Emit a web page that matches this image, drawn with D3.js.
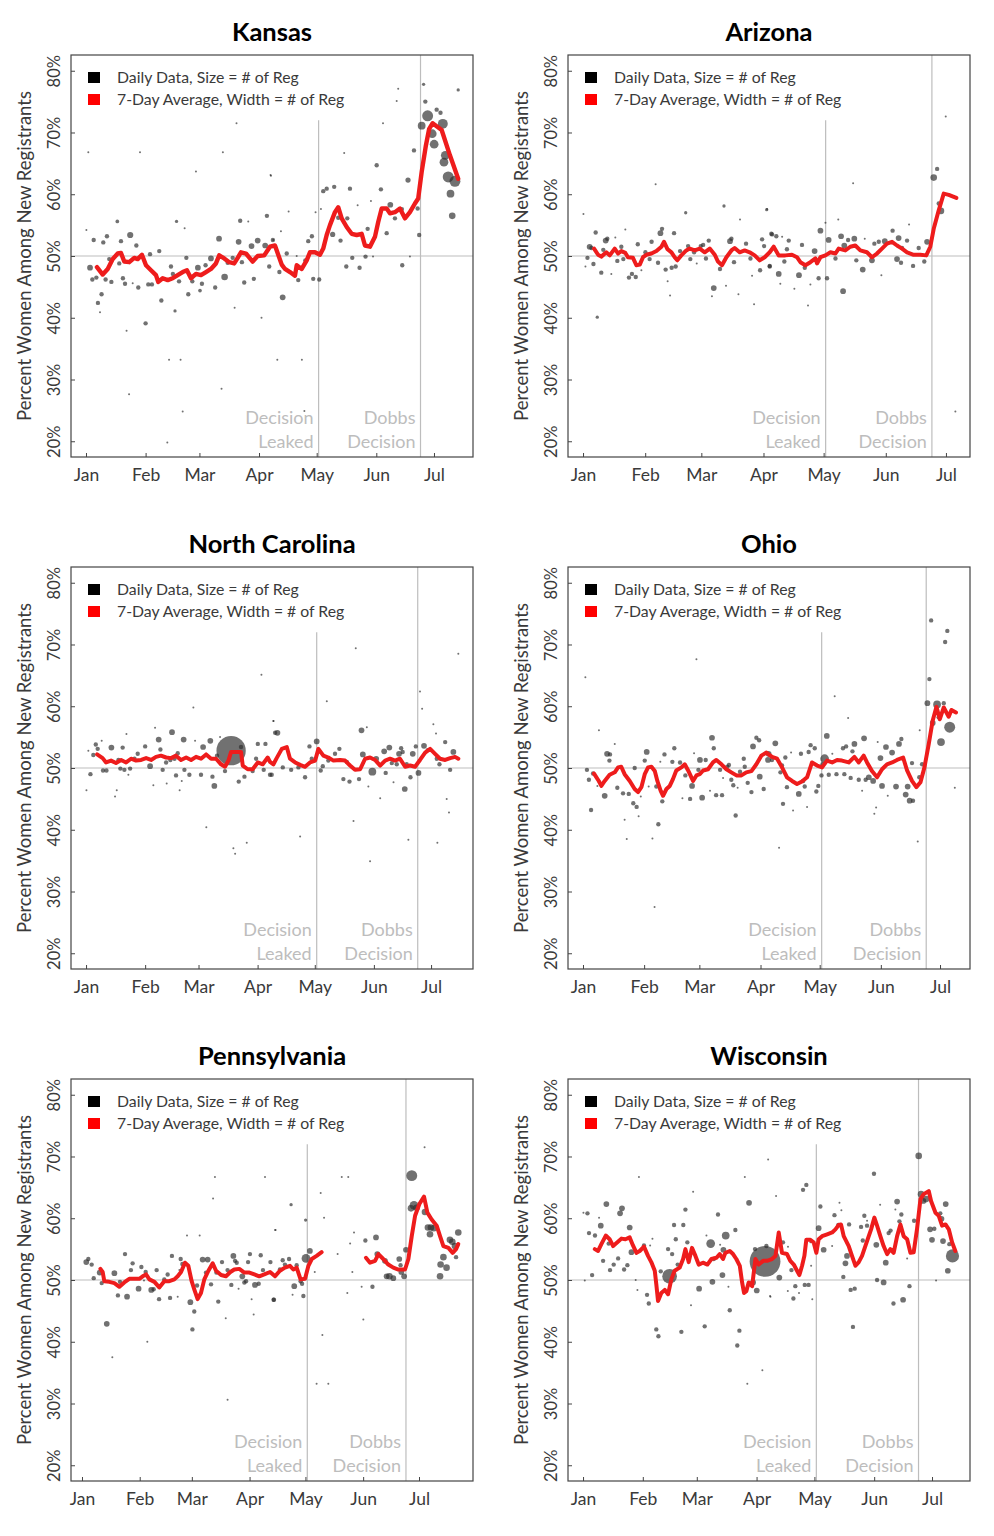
<!DOCTYPE html>
<html><head><meta charset="utf-8">
<script src="https://cdn.jsdelivr.net/npm/d3@7"></script>
<style>body{margin:0;background:#fff} text{font-family:Lato,'Open Sans',sans-serif}</style>
</head><body><svg id="c" width="994" height="1536"></svg>
<script>
// ---------------- data ----------------
const states = ["Kansas","Arizona","North Carolina","Ohio","Pennsylvania","Wisconsin"];
const monthTicks = [0,31,59,90,120,151,181];          // day of year 2022 (0 = Jan 1)
const monthLabels = ["Jan","Feb","Mar","Apr","May","Jun","Jul"];
const yTicks = [20,30,40,50,60,70,80];
const leakDay = 121, dobbsDay = 174;
const xDomains = [[-7.8,201.3],[-7.5,193],[-7.9,203],[-7.6,196.2],[-5.9,210],[-7.8,200.7]];
const legendLabels = ["Daily Data, Size = # of Reg","7-Day Average, Width = # of Reg"];

// daily points: [day, % women, # registrants]
const ksDots = [[1.2,66.8,1],[28.1,66.8,1],[71.2,66.8,1],[78.3,71.5,1],[57.2,63.7,1],[96.2,63.0,1],[0.2,54.2,1],[16.3,55.6,5],[4.0,52.6,7],[9.0,52.2,7],[10.9,53.2,7],[23.0,53.4,14],[18.2,52.4,7],[26.2,51.7,7],[33.3,50.3,7],[38.1,50.8,7],[47.1,55.6,4],[51.3,54.5,1],[69.2,52.8,12],[80.2,55.7,7],[84.4,55.6,1],[79.4,52.3,12],[86.1,51.6,12],[89.3,52.5,12],[93.2,51.7,12],[94.1,56.5,7],[97.2,52.6,7],[2.1,48.1,12],[3.3,46.2,7],[5.4,46.5,7],[8.1,43.8,7],[6.2,42.4,7],[7.3,40.9,1],[10.2,46.2,7],[13.2,45.8,7],[12.1,49.5,7],[17.3,48.8,7],[19.2,46.4,7],[20.3,45.5,7],[24.3,45.6,1],[27.2,44.9,7],[32.4,45.4,7],[34.3,45.4,7],[39.2,42.8,7],[44.2,48.3,7],[45.2,47.1,7],[46.3,41.1,4],[48.4,45.9,7],[52.2,49.7,7],[53.2,43.8,7],[55.3,45.9,7],[58.2,48.1,12],[59.3,44.4,5],[60.3,45.5,7],[62.2,48.5,7],[65.0,49.6,12],[67.2,44.9,7],[72.1,46.6,16],[73.7,48.9,7],[76.3,49.7,7],[81.1,49.0,7],[82.3,45.7,7],[87.3,46.3,7],[95.3,48.3,7],[31.0,39.1,7],[21.1,37.9,1],[77.3,41.6,1],[91.3,40.0,1],[43.2,33.2,1],[49.2,33.2,1],[70.5,28.5,1],[22.4,27.6,1],[50.3,24.8,1],[42.3,19.8,1],
[175.6,77.8,4],[162.4,77.1,1],[161.6,75.1,1],[193.6,76.9,4],[176.5,75.0,7],[182.4,73.7,7],[184.4,73.2,7],[177.7,72.7,44],[174.6,71.1,22],[185.6,71.4,36],[180.1,69.8,28],[181.1,68.1,28],[186.9,66.3,28],[186.2,65.2,28],[188.4,62.8,44],[191.9,62.1,44],[189.6,60.1,22],[190.5,56.5,16],[170.6,67.1,7],[154.5,71.5,1],[134.3,66.7,1],[151.2,64.7,7],[167.5,62.3,10],[137.3,60.9,7],[129.1,61.2,7],[125.2,60.9,7],[123.4,60.5,7],[153.4,60.8,7],[148.2,58.9,1],[141.3,58.2,1],[158.3,58.3,12],[160.7,56.1,7],[164.3,57.6,7],[172.5,57.7,7],[122.2,57.6,1],[119.4,57.1,1],[105.4,57.2,1],[96.0,63.1,1],[135.9,56.1,7],[131.2,56.2,7],[128.3,53.5,10],[132.4,52.5,7],[146.5,54.4,7],[156.4,53.7,7],[173.3,53.4,7],[117.5,53.2,7],[115.6,52.4,7],[101.4,54.0,1],[97.4,52.6,1],[104.4,50.4,7],[109.6,50.0,1],[114.1,49.3,7],[138.5,49.7,7],[145.4,49.9,7],[135.4,48.3,7],[142.3,48.1,7],[164.5,48.5,7],[149.3,49.9,1],[168.5,49.9,1],[100.6,47.4,7],[110.4,46.1,7],[118.2,46.3,7],[121.3,46.2,7],[102.3,43.3,12],[99.5,33.2,1],[112.3,33.2,1],[113.6,24.9,1]];
const ksLine = [[5.7,48.2],[8.7,47.0],[11.3,47.9],[13.9,49.5],[16.5,50.4],[18.2,50.5],[19.9,49.1],[22.5,49.0],[25.1,49.7],[26.9,49.5],[29.1,50.2],[31.2,48.5],[33.8,47.7],[36.4,46.9],[37.6,45.8],[39.9,46.4],[42.5,46.1],[45.1,46.4],[47.7,46.9],[50.3,47.4],[52.5,47.7],[54.6,46.4],[57.2,47.1],[59.8,46.9],[62.4,47.4],[65.0,47.9],[67.6,48.8],[69.3,50.1],[71.9,49.6],[74.5,49.0],[77.1,48.8],[78.9,49.7],[80.6,50.6],[83.2,50.4],[86.7,49.1],[89.3,50.0],[92.7,50.1],[95.7,51.5],[98.3,51.7],[101.8,48.6],[103.5,47.9],[106.1,47.4],[108.7,46.8],[109.6,48.5],[112.2,47.9],[114.8,49.3],[116.5,50.6],[119.1,50.6],[121.7,50.2],[123.4,51.2],[125.2,53.4],[126.9,55.0],[129.5,57.1],[131.2,57.9],[133.0,56.1],[135.6,54.7],[138.2,53.6],[140.8,53.4],[143.4,53.6],[145.1,51.7],[147.7,51.5],[150.3,53.1],[152.0,55.5],[153.8,57.7],[156.4,57.7],[158.1,56.9],[160.7,57.1],[163.3,57.7],[165.9,56.1],[168.5,57.1],[171.1,58.5],[172.8,59.3],[174.6,63.6],[176.8,67.9],[178.5,70.6],[180.3,71.5],[185.0,70.4],[189.3,66.3],[193.6,62.5]];

const azDots = [[0.2,56.8,1],[36.2,61.6,1],[51.2,57.0,4],[70.3,58.1,4],[78.3,55.9,1],[91.6,57.5,4],[6.3,53.8,7],[11.3,52.5,12],[12.1,52.8,7],[16.1,53.0,1],[21.1,54.3,1],[19.1,51.5,7],[3.3,51.5,12],[4.2,51.3,7],[2.2,49.7,7],[1.2,48.3,1],[5.2,48.7,7],[9.1,47.3,7],[10.1,51.0,7],[14.1,47.1,1],[17.1,49.2,7],[20.1,49.5,7],[22.9,46.5,7],[24.4,47.1,7],[26.3,46.6,7],[27.3,51.9,7],[29.1,47.7,1],[31.1,50.6,7],[33.2,49.5,7],[34.2,52.3,7],[37.4,48.9,7],[38.6,53.7,12],[39.4,54.4,7],[41.2,47.8,7],[42.2,45.9,1],[43.4,43.6,1],[44.2,48.1,7],[45.4,53.7,7],[46.2,48.3,7],[48.4,50.8,7],[52.4,51.6,7],[53.5,49.5,7],[55.4,50.6,7],[56.7,48.8,1],[58.7,51.6,7],[59.9,51.8,7],[61.3,49.6,7],[62.7,52.5,7],[65.2,44.8,12],[64.3,43.5,1],[68.3,47.9,7],[71.3,45.2,1],[73.3,52.4,12],[74.0,52.8,7],[75.3,49.0,7],[77.5,43.8,1],[81.3,52.0,7],[83.5,49.6,7],[84.3,46.8,1],[85.3,42.2,1],[88.3,47.7,7],[89.3,52.7,7],[90.3,51.6,7],[93.9,53.6,7],[93.1,48.4,7],[7.1,40.1,4],
[180.9,72.6,1],[176.6,64.1,7],[174.9,62.7,16],[177.4,58.5,7],[178.5,57.3,16],[134.7,61.8,1],[91.8,57.6,1],[120.9,55.4,1],[127.3,55.9,1],[118.4,54.1,12],[94.3,53.5,7],[96.4,53.2,7],[99.3,53.1,1],[102.6,52.5,7],[109.2,51.8,7],[101.7,51.1,7],[115.5,50.8,12],[122.5,52.6,12],[128.7,53.2,12],[130.3,51.7,12],[132.2,52.6,7],[135.3,52.8,12],[140.5,52.8,1],[145.3,52.0,7],[147.5,52.3,7],[150.5,52.4,12],[154.4,54.1,7],[157.4,52.9,12],[159.1,51.3,7],[161.6,52.5,7],[162.6,55.1,1],[167.4,51.3,7],[171.6,52.3,12],[170.2,49.1,7],[164.6,48.4,7],[156.6,49.5,12],[158.6,48.9,7],[144.1,49.3,12],[136.3,49.3,7],[139.5,47.8,12],[148.8,46.9,1],[129.7,44.3,12],[125.9,49.6,7],[121.7,46.4,7],[117.5,46.4,7],[113.4,45.4,1],[112.2,42.0,1],[110.6,48.1,7],[107.7,46.9,12],[105.4,44.7,1],[97.6,47.1,12],[98.4,45.5,1],[93.1,48.3,7],[100.4,49.1,7],[185.7,24.8,1]];
const azLine = [[5.5,51.2],[7.5,50.2],[9.1,49.9],[11.6,50.6],[13.3,50.1],[15.8,51.2],[17.5,50.4],[19.1,50.8],[21.1,50.5],[22.4,49.8],[24.9,49.7],[26.6,48.5],[28.3,48.6],[29.9,49.8],[31.6,50.2],[34.1,50.4],[36.6,50.8],[39.1,51.5],[40.4,52.3],[42.1,51.1],[44.1,50.6],[45.7,49.8],[47.0,49.3],[49.0,50.1],[51.5,50.9],[53.2,51.2],[55.7,50.9],[58.2,51.2],[60.7,50.6],[63.2,51.2],[65.7,50.2],[67.3,49.1],[69.3,48.5],[71.5,49.8],[74.0,50.9],[75.6,51.3],[78.1,50.6],[80.6,50.9],[83.1,50.6],[85.6,50.1],[88.1,49.3],[90.6,49.8],[93.1,50.6],[95.1,51.5],[97.6,50.1],[100.9,50.1],[104.2,50.2],[106.7,49.8],[108.4,49.0],[110.9,48.5],[113.4,49.0],[115.9,49.6],[116.7,48.8],[118.4,49.8],[120.9,50.1],[123.4,50.6],[125.9,50.4],[127.5,51.2],[130.8,50.9],[133.3,51.5],[135.8,51.7],[138.3,50.9],[141.6,50.6],[144.1,49.8],[146.6,50.4],[149.1,51.2],[151.6,52.0],[154.1,52.3],[156.6,51.7],[159.1,51.2],[161.6,50.6],[164.9,50.2],[168.2,50.2],[171.2,50.1],[173.2,51.5],[174.9,54.4],[177.4,57.4],[179.9,60.1],[182.4,59.9],[186.2,59.4]];

const ncDots = [[76.1,52.8,315],[56.3,59.8,1],[92.0,65.1,1],[98.3,57.6,1],[99.2,55.7,7],[21.2,55.5,1],[36.2,56.5,1],[45.1,55.8,12],[38.1,54.6,12],[51.2,54.6,12],[57.2,54.4,1],[65.2,54.4,12],[70.3,55.0,1],[8.2,54.4,1],[5.1,53.8,7],[1.2,52.8,1],[6.1,53.1,7],[3.8,52.1,7],[13.3,53.3,12],[19.2,53.3,7],[31.0,53.5,7],[39.0,53.0,7],[48.1,52.4,7],[61.4,53.4,12],[68.7,52.0,7],[81.3,53.4,7],[89.2,51.5,7],[90.1,53.9,7],[94.1,53.9,7],[17.0,51.3,7],[25.4,51.5,7],[27.1,52.3,7],[33.6,50.3,12],[44.2,51.3,7],[46.4,51.5,7],[42.0,50.9,7],[51.6,49.7,7],[2.3,49.0,7],[8.9,49.6,7],[10.7,49.6,7],[18.0,49.9,7],[20.1,49.7,7],[23.1,49.9,7],[22.2,48.9,1],[40.2,49.7,7],[47.2,48.8,7],[54.2,48.9,7],[60.3,48.9,7],[66.3,48.6,7],[67.3,47.1,12],[50.2,47.9,1],[42.3,47.5,1],[35.3,47.2,1],[49.1,46.4,1],[72.9,49.5,7],[83.1,48.6,7],[80.1,47.8,7],[87.4,49.5,7],[93.2,49.7,7],[96.5,48.9,7],[0.2,46.4,1],[16.1,46.4,1],[15.2,45.4,1],[63.1,40.4,1],[84.3,37.9,1],[77.3,37.0,1],[78.2,36.1,1],
[141.5,69.4,1],[195.3,68.5,1],[175.2,62.4,1],[176.3,59.6,1],[126.3,60.8,1],[98.3,57.6,1],[100.4,55.7,12],[144.5,56.1,12],[147.3,56.6,1],[182.2,57.1,1],[183.6,55.6,1],[188.4,54.2,7],[121.0,54.3,12],[117.2,53.5,7],[132.9,53.1,7],[130.6,52.3,7],[145.2,52.2,12],[156.4,52.7,12],[159.1,53.3,12],[165.3,53.2,7],[166.1,52.6,7],[164.2,52.3,12],[171.4,52.3,12],[173.0,53.5,7],[177.3,53.6,12],[179.3,52.9,7],[192.7,52.6,12],[118.4,51.5,7],[124.2,50.3,7],[127.1,51.2,7],[136.8,51.0,7],[152.2,51.5,12],[160.4,50.8,7],[163.0,50.6,7],[168.2,50.6,7],[184.0,51.5,7],[185.4,50.6,7],[103.2,50.1,7],[107.6,49.7,7],[111.4,50.1,7],[114.9,48.5,7],[123.1,49.6,7],[135.0,48.2,7],[138.2,47.8,7],[143.2,48.2,7],[150.2,49.4,22],[157.2,49.2,7],[167.2,46.6,12],[170.2,48.5,7],[174.4,49.2,12],[191.0,49.7,7],[97.4,48.9,7],[148.1,47.0,1],[161.3,47.7,1],[154.3,45.1,1],[189.2,45.0,1],[190.4,42.8,1],[140.3,41.4,1],[169.1,38.4,1],[184.3,37.9,1],[112.3,38.9,1],[149.0,34.9,1]];
const ncLine = [[5.8,52.2],[8.7,51.6],[10.5,50.9],[13.1,51.2],[15.7,50.8],[18.4,51.3],[21.0,50.9],[23.6,51.5],[26.2,51.2],[28.9,51.3],[31.5,51.6],[34.1,51.3],[36.7,51.8],[39.3,52.0],[42.0,51.7],[44.6,51.6],[47.2,52.0],[49.8,51.3],[52.5,51.7],[55.1,51.3],[57.7,51.8],[60.3,51.5],[63.0,52.2],[65.6,51.5],[68.2,51.5],[70.8,50.6],[72.9,50.2],[74.7,51.2],[76.1,52.6],[81.3,52.6],[82.2,50.4],[84.8,49.8],[87.4,49.8],[90.1,50.9],[92.7,50.6],[95.3,51.7],[96.5,51.0],[98.3,50.6],[100.0,51.6],[102.7,53.1],[105.3,53.4],[107.0,51.5],[109.7,50.9],[112.3,50.5],[114.9,50.2],[117.5,50.9],[120.2,51.2],[121.9,53.1],[124.5,52.0],[127.1,51.7],[129.8,51.2],[133.3,51.3],[135.9,51.2],[138.5,50.4],[141.1,49.7],[143.8,49.8],[146.4,51.5],[149.0,51.7],[151.6,51.3],[154.3,50.4],[156.9,51.2],[159.5,51.5],[162.1,51.2],[164.7,51.5],[167.4,50.2],[170.0,50.4],[172.6,50.2],[175.2,51.3],[177.9,52.5],[180.5,53.1],[183.1,52.3],[185.7,51.5],[188.4,51.3],[191.0,51.6],[193.6,51.8],[195.3,51.5]];

const ohDots = [[1.2,64.7,1],[57.5,67.6,1],[8.1,56.1,1],[16.1,53.9,1],[12.2,52.3,12],[13.7,52.2,7],[13.4,51.2,7],[2.0,49.7,7],[3.0,48.1,7],[5.1,49.1,7],[4.1,43.2,7],[7.3,47.1,1],[11.0,45.5,12],[17.4,46.8,7],[20.3,45.9,7],[23.2,45.8,7],[25.5,44.3,7],[27.2,43.7,7],[28.2,42.2,1],[21.1,41.6,1],[22.2,38.5,1],[32.3,52.6,12],[31.3,51.2,7],[26.2,50.0,7],[33.3,47.0,1],[29.3,45.4,1],[37.2,47.0,7],[38.2,40.9,7],[40.2,44.6,7],[35.2,38.6,1],[36.3,27.5,1],[41.3,52.2,7],[39.2,51.0,1],[45.3,51.0,7],[46.3,53.2,7],[49.2,50.9,7],[51.9,48.8,7],[50.4,45.1,1],[54.3,45.0,7],[55.3,47.1,12],[56.3,52.4,1],[59.3,51.3,12],[62.2,51.3,7],[58.5,49.7,7],[60.4,45.2,12],[64.4,46.3,1],[65.4,54.9,12],[66.3,53.2,7],[67.5,45.6,7],[70.5,45.6,7],[69.5,49.7,7],[71.0,48.4,1],[73.2,50.2,7],[74.0,50.5,7],[75.2,48.1,7],[76.2,47.2,7],[77.4,42.3,7],[78.4,46.8,1],[79.6,49.4,7],[81.5,51.5,7],[82.0,50.2,7],[83.5,47.6,7],[85.4,46.1,7],[86.2,53.5,12],[87.9,54.9,7],[89.3,54.5,7],[89.6,48.6,12],[91.6,46.6,7],[93.8,51.3,12],
[176.5,73.9,7],[184.7,72.2,7],[183.6,70.4,7],[175.6,64.4,7],[174.6,60.5,12],[179.5,60.3,22],[182.9,60.5,7],[177.3,57.3,12],[180.3,58.2,7],[185.9,56.6,44],[181.5,54.2,22],[127.6,61.6,1],[134.4,58.1,1],[123.6,55.2,12],[142.5,54.8,12],[137.6,53.9,12],[161.4,54.7,7],[160.2,53.9,12],[153.6,53.4,12],[156.7,52.5,12],[149.4,54.2,1],[170.7,56.1,1],[115.4,53.7,7],[117.5,53.2,7],[114.4,52.6,7],[110.5,52.3,7],[105.5,52.5,1],[102.6,51.7,7],[97.5,54.0,12],[94.1,52.3,12],[95.8,51.3,7],[131.8,53.2,7],[133.4,53.5,7],[136.6,52.7,7],[126.4,52.3,1],[122.5,51.5,28],[121.4,50.6,7],[120.9,48.8,7],[124.6,48.9,7],[128.5,49.0,7],[132.5,49.0,7],[135.7,48.4,7],[139.8,48.1,7],[143.3,48.1,7],[144.9,48.5,12],[147.1,47.9,12],[150.8,51.6,12],[151.6,47.1,12],[158.7,47.0,12],[154.5,45.5,1],[163.6,45.7,12],[164.6,47.0,12],[165.6,44.7,12],[167.3,44.7,7],[166.8,50.8,7],[171.9,50.6,7],[170.5,48.5,7],[141.5,46.3,1],[147.7,42.6,1],[148.6,43.6,1],[100.1,49.3,7],[100.9,50.4,7],[103.4,46.9,7],[109.4,45.8,12],[112.4,47.0,7],[111.6,47.9,7],[118.3,46.2,7],[119.3,47.1,7],[101.4,44.2,7],[106.5,43.1,1],[113.6,43.7,1],[99.4,37.1,1],[169.7,38.1,1],[188.5,46.8,1]];
const ohLine = [[5.6,49.1],[8.0,47.9],[9.3,47.1],[11.0,47.9],[13.5,48.9],[16.1,49.3],[17.8,50.1],[19.4,50.2],[21.1,49.0],[23.7,47.9],[26.2,46.6],[27.9,46.1],[29.6,46.9],[31.3,49.0],[33.0,50.1],[34.7,50.2],[36.4,49.5],[37.7,47.9],[39.4,46.3],[40.6,45.5],[42.3,46.6],[44.0,47.1],[45.6,48.2],[47.3,49.6],[49.9,50.1],[51.6,50.6],[53.3,49.6],[55.8,47.9],[57.5,48.8],[59.2,49.0],[60.9,49.6],[63.4,49.8],[65.9,50.9],[67.6,51.3],[70.2,50.6],[72.7,49.8],[75.2,49.3],[77.8,48.8],[80.3,48.8],[82.8,49.3],[85.4,49.5],[87.9,50.6],[90.4,52.0],[93.0,52.5],[95.8,51.8],[98.4,51.5],[100.9,50.1],[103.4,48.5],[106.0,47.9],[108.5,47.4],[111.0,47.8],[113.6,48.5],[116.1,50.9],[118.7,50.4],[121.2,50.1],[123.7,51.2],[126.3,50.9],[128.8,51.3],[131.3,51.2],[134.7,50.9],[137.6,51.8],[139.8,50.9],[142.3,52.0],[144.0,50.9],[146.5,49.5],[149.1,48.5],[151.6,49.8],[154.1,50.6],[156.7,50.9],[159.2,51.3],[162.3,51.7],[164.3,49.6],[166.8,47.9],[169.0,46.9],[171.1,47.7],[173.1,50.1],[175.3,53.9],[177.3,57.7],[179.2,59.9],[180.9,57.9],[182.9,59.8],[185.4,58.3],[186.8,59.4],[189.1,59.0]];

const paDots = [[71.4,66.7,1],[98.3,66.7,1],[70.4,63.2,1],[103.7,58.1,1],[56.4,57.2,1],[63.2,57.2,1],[23.1,54.2,7],[2.3,52.9,12],[3.4,53.4,7],[5.2,52.5,7],[6.3,50.3,7],[9.5,51.2,12],[10.6,49.5,7],[17.4,51.1,12],[27.2,52.7,7],[26.3,51.6,7],[31.9,52.1,7],[34.2,51.3,7],[20.4,49.7,7],[19.3,47.5,7],[24.2,47.3,12],[30.4,48.6,12],[33.3,49.9,1],[37.2,48.4,12],[38.5,48.5,7],[40.1,51.6,7],[41.4,46.9,7],[44.2,50.1,7],[46.0,50.9,7],[47.3,47.1,7],[48.3,53.9,7],[51.4,47.3,1],[52.3,51.6,1],[53.0,53.4,7],[53.9,52.6,7],[58.2,46.4,12],[60.3,44.9,7],[59.3,42.0,7],[61.8,49.1,7],[64.8,53.3,12],[67.5,53.3,12],[66.6,51.2,7],[69.3,49.3,7],[72.2,51.2,7],[73.2,46.5,7],[75.2,52.9,7],[78.2,51.6,7],[80.2,49.2,7],[81.3,53.9,12],[82.2,53.1,7],[83.1,52.8,7],[84.1,48.6,1],[86.1,50.6,12],[87.2,49.6,7],[88.1,49.8,7],[89.2,52.9,7],[90.2,54.2,7],[92.9,49.2,12],[94.9,49.4,7],[96.0,54.0,7],[97.2,51.6,7],[101.2,52.9,7],[102.9,46.8,7],[13.3,42.9,12],[16.3,37.5,1],[35.1,40.0,1],[77.2,43.8,1],[92.2,44.4,1],[91.1,46.9,1],[78.2,30.6,1],
[184.0,71.5,1],[177.1,66.9,44],[178.3,62.1,28],[179.7,61.7,16],[176.7,61.6,16],[184.2,61.0,16],[185.8,58.5,16],[187.4,58.5,16],[189.0,58.4,16],[186.9,57.4,16],[197.6,56.5,16],[198.9,56.2,16],[202.1,57.7,16],[200.3,55.5,16],[194.1,53.7,16],[192.6,52.5,16],[195.8,52.0,16],[192.3,50.6,16],[200.9,53.7,7],[139.5,66.7,1],[143.0,66.7,1],[128.2,64.1,1],[130.0,60.1,1],[120.1,59.7,4],[112.3,62.2,4],[104.0,58.1,1],[146.1,57.7,1],[144.0,55.9,1],[152.2,56.4,7],[157.9,56.9,12],[122.4,54.7,12],[120.3,53.5,28],[137.3,54.2,1],[158.6,54.2,12],[162.7,53.1,12],[170.4,53.4,12],[174.0,54.9,12],[171.1,52.4,7],[171.5,51.3,12],[173.0,50.6,12],[165.1,50.6,16],[167.2,50.3,12],[163.6,50.6,12],[107.8,53.2,7],[111.2,53.4,7],[115.3,52.4,7],[109.0,52.5,7],[106.3,51.7,7],[125.0,51.3,1],[145.2,51.3,1],[114.0,49.0,12],[117.4,49.8,7],[118.2,49.4,7],[103.1,46.8,7],[118.9,47.4,7],[113.1,47.6,1],[142.5,47.9,1],[150.2,48.9,1],[156.0,48.9,7],[151.1,43.6,1],[129.1,41.1,1],[126.0,33.2,1],[132.3,33.2,1]];
const paLine1 = [[9.9,51.8],[11.1,51.3],[12.0,49.8],[14.7,49.7],[17.4,49.5],[20.1,48.9],[22.7,49.6],[25.4,50.2],[28.1,50.2],[30.8,50.2],[32.6,50.6],[34.4,50.9],[36.2,50.1],[38.9,49.7],[41.5,48.8],[44.2,49.8],[46.9,49.8],[49.6,50.1],[51.4,50.6],[53.2,51.3],[55.3,52.8],[57.1,52.3],[58.9,49.8],[60.3,48.5],[62.1,46.9],[63.9,47.9],[65.7,50.1],[67.9,51.5],[70.2,52.7],[72.0,51.5],[74.7,50.8],[77.3,50.6],[79.7,51.3],[81.8,51.7],[84.5,51.8],[87.2,51.2],[89.9,51.2],[92.6,50.9],[95.2,50.6],[97.9,50.9],[101.0,51.3],[103.7,50.6],[106.3,51.5],[109.0,52.0],[111.7,52.3],[113.5,51.7],[115.3,52.0],[117.4,50.1],[119.8,50.2],[121.6,52.3],[123.4,53.4],[126.0,53.9],[128.7,54.5]];
const paLine2 = [[152.5,53.6],[154.7,52.8],[157.4,53.1],[159.2,54.2],[161.8,53.4],[164.5,52.5],[167.2,52.0],[169.9,51.7],[173.5,51.7],[175.3,53.4],[177.1,57.1],[178.9,60.4],[181.2,62.3],[183.7,63.5],[185.5,60.9],[187.8,59.8],[190.5,58.8],[192.3,57.1],[194.1,55.5],[196.8,55.2],[199.1,54.4],[200.9,55.0],[202.1,55.8]];

const wiDots = [[96.0,69.5,1],[29.0,66.7,1],[83.9,66.7,1],[57.1,64.3,1],[86.1,62.5,12],[12.1,62.3,12],[20.2,61.6,12],[19.2,60.8,12],[0.2,60.9,1],[2.3,60.8,7],[8.3,60.1,1],[70.0,60.6,7],[53.1,61.4,7],[9.2,58.8,12],[24.2,58.5,12],[47.2,58.9,7],[52.0,58.9,7],[79.0,58.1,7],[74.0,57.2,22],[3.1,57.6,7],[6.2,57.2,7],[64.0,57.2,1],[48.1,56.6,7],[54.1,56.1,7],[66.2,55.9,28],[71.1,55.7,1],[36.0,56.7,1],[31.6,55.6,7],[34.8,55.6,1],[13.3,55.9,7],[44.1,55.0,7],[72.8,54.9,12],[25.1,54.5,12],[46.2,54.2,7],[18.2,53.5,7],[23.0,52.4,7],[10.4,53.1,7],[15.9,52.5,7],[14.0,51.6,7],[21.3,51.7,7],[49.1,52.5,7],[67.8,53.4,7],[94.4,53.0,348],[89.2,55.0,7],[95.1,55.5,7],[4.7,50.8,7],[0.9,49.9,1],[27.3,50.0,1],[40.3,51.4,7],[44.9,50.6,80],[28.2,48.4,1],[33.2,47.6,7],[34.1,46.2,7],[60.2,48.6,12],[67.1,49.7,12],[72.3,50.8,12],[75.4,48.9,1],[76.1,45.1,7],[56.0,45.9,1],[63.1,42.5,7],[51.0,41.6,7],[38.0,42.0,7],[39.1,40.9,7],[81.1,41.8,7],[80.0,39.4,7],[88.2,49.6,12],[90.1,48.3,12],[97.0,47.4,1],[93.0,35.4,1],[85.2,33.2,1],
[174.1,70.1,16],[150.9,67.2,7],[115.8,65.4,7],[114.1,64.6,7],[100.1,63.6,1],[123.1,61.9,7],[133.0,62.5,1],[162.9,62.7,12],[188.1,62.3,12],[175.3,63.9,16],[177.9,63.1,16],[176.5,62.8,12],[134.0,61.3,1],[130.4,60.5,7],[162.0,61.4,1],[165.1,60.6,7],[145.9,60.4,7],[147.3,59.6,1],[154.1,62.2,1],[185.3,60.8,7],[185.9,59.9,12],[138.0,59.0,7],[132.4,58.9,7],[122.2,58.4,12],[144.2,58.6,7],[147.3,58.8,7],[164.1,59.5,7],[171.7,59.6,7],[180.0,58.2,12],[182.2,58.3,7],[158.5,57.6,7],[159.5,58.0,7],[106.3,55.4,1],[103.7,56.1,7],[117.9,56.1,1],[152.1,55.7,12],[145.1,56.4,7],[124.8,54.9,12],[129.2,55.5,1],[136.9,53.9,12],[136.1,52.7,12],[157.0,52.8,12],[181.0,56.5,12],[186.7,56.3,12],[190.0,55.8,7],[191.6,53.9,64],[189.2,51.5,12],[168.1,53.5,1],[108.1,51.6,7],[101.8,50.4,12],[118.3,52.3,1],[135.0,50.5,7],[152.5,50.0,7],[155.9,49.6,12],[183.1,49.9,1],[169.3,49.0,7],[110.1,49.0,7],[115.0,49.2,7],[117.0,49.2,7],[106.2,48.2,1],[112.0,47.9,1],[109.1,47.0,7],[97.2,47.3,1],[118.9,46.9,1],[138.8,48.4,7],[140.9,48.6,7],[161.0,46.2,7],[166.0,46.8,12],[140.0,42.4,7]];
const wiLine = [[6.1,55.0],[7.8,54.7],[9.5,55.8],[11.8,57.2],[13.8,56.6],[15.6,55.5],[17.8,56.1],[19.9,56.7],[22.0,56.6],[24.2,56.9],[25.9,55.6],[27.7,54.4],[29.4,54.7],[31.6,55.4],[33.7,53.9],[35.4,52.9],[37.2,51.5],[38.0,49.3],[38.9,46.6],[40.6,47.9],[42.4,48.4],[44.1,47.7],[45.8,50.1],[47.5,51.5],[50.1,52.0],[51.9,53.4],[53.1,55.0],[54.8,52.9],[56.5,55.2],[58.3,53.9],[60.0,52.5],[62.2,52.8],[64.5,52.5],[66.6,53.4],[69.2,53.6],[70.9,54.2],[72.6,53.4],[73.8,54.4],[76.1,54.7],[77.8,54.2],[79.5,53.4],[81.3,52.3],[82.5,49.6],[83.5,47.9],[84.7,48.2],[85.9,49.6],[87.7,49.0],[89.4,53.4],[91.1,52.5],[93.4,53.1],[95.4,53.1],[98.0,53.4],[99.8,53.9],[101.5,57.7],[103.2,54.4],[105.8,54.2],[107.5,53.1],[109.3,52.5],[111.0,51.5],[112.2,50.8],[113.6,52.3],[114.8,53.9],[115.8,56.5],[117.9,56.5],[119.6,56.1],[121.0,54.4],[122.2,56.6],[124.0,57.1],[126.6,57.4],[129.2,57.7],[130.9,58.2],[132.6,58.9],[133.8,59.0],[135.2,57.1],[137.8,55.5],[139.5,53.9],[141.3,52.3],[143.0,52.9],[144.7,53.9],[147.3,56.3],[149.4,58.2],[151.1,60.1],[152.5,58.8],[154.2,57.1],[155.9,55.5],[157.7,54.2],[159.4,55.0],[161.1,54.4],[162.9,57.1],[164.6,59.0],[166.3,57.1],[168.1,56.6],[169.8,54.4],[171.5,54.5],[173.2,58.2],[175.0,63.1],[176.7,63.9],[179.3,64.4],[180.5,62.8],[182.8,60.9],[184.5,60.4],[186.2,58.8],[188.0,59.0],[189.7,58.2],[191.4,56.1],[193.1,54.7]];

const dotsByState = [ksDots, azDots, ncDots, ohDots, paDots, wiDots];
const linesByState = [[ksLine],[azLine],[ncLine],[ohLine],[paLine1,paLine2],[wiLine]];

// ---------------- drawing ----------------
const svg = d3.select("#c");
const W = 402, H = 402;
const colX = [71, 568], rowY = [55, 567, 1079];
const base = Date.UTC(2022,0,1);
const toDate = d => new Date(base + d*864e5);
const rScale = d3.scaleSqrt().domain([0,400]).range([0,16.5]);
const textCol = "#3a3a3a", refCol = "#bdbdbd";

states.forEach((name, i) => {
  const ox = colX[i%2], oy = rowY[Math.floor(i/2)];
  const g = svg.append("g").attr("transform", `translate(${ox},${oy})`);
  const x = d3.scaleUtc().domain(xDomains[i].map(toDate)).range([0, W]);
  const y = d3.scaleLinear().domain([17.45, 82.55]).range([H, 0]);

  // title
  g.append("text").attr("x", W/2).attr("y", -14).attr("text-anchor","middle")
    .attr("font-size", 25.5).attr("font-weight", 700).attr("fill","#000").text(name);

  // reference lines
  g.append("line").attr("x1",0).attr("x2",W).attr("y1",y(50)).attr("y2",y(50))
    .attr("stroke", refCol).attr("stroke-width",1.2);
  g.append("line").attr("x1",x(toDate(leakDay))).attr("x2",x(toDate(leakDay)))
    .attr("y1",y(72)).attr("y2",H).attr("stroke",refCol).attr("stroke-width",1.2);
  g.append("line").attr("x1",x(toDate(dobbsDay))).attr("x2",x(toDate(dobbsDay)))
    .attr("y1",0).attr("y2",H).attr("stroke",refCol).attr("stroke-width",1.2);

  // annotations
  const ann = (day, l1, l2) => {
    const xx = x(toDate(day)) - 5;
    g.append("text").attr("x",xx).attr("y",H-33).attr("text-anchor","end")
      .attr("font-size",18).attr("fill",refCol).text(l1);
    g.append("text").attr("x",xx).attr("y",H-9).attr("text-anchor","end")
      .attr("font-size",18).attr("fill",refCol).text(l2);
  };
  ann(leakDay, "Decision", "Leaked");
  ann(dobbsDay, "Dobbs", "Decision");

  // dots
  g.append("g").selectAll("circle").data(dotsByState[i]).join("circle")
    .attr("cx", d => x(toDate(d[0]))).attr("cy", d => y(d[1]))
    .attr("r", d => Math.max(1, rScale(d[2])))
    .attr("fill", "#2e2e2e").attr("fill-opacity", 0.68);

  // 7-day average
  const line = d3.line().x(d => x(toDate(d[0]))).y(d => y(d[1]));
  linesByState[i].forEach(seg => {
    g.append("path").datum(seg).attr("d", line).attr("fill","none")
      .attr("stroke","#ee1c1c").attr("stroke-width", i===0 ? 4.4 : 4)
      .attr("stroke-linejoin","round").attr("stroke-linecap","round");
  });

  // axes
  const ya = g.append("g").call(d3.axisLeft(y).tickValues(yTicks).tickFormat(d => d+"%")
      .tickSizeInner(-4).tickSizeOuter(0));
  ya.select(".domain").remove();
  ya.selectAll("line").attr("stroke","#444");
  ya.selectAll("text").attr("transform","rotate(-90)").attr("x",0).attr("y",-11).attr("dy",0)
    .attr("text-anchor","middle").attr("font-size",16.5).attr("fill",textCol)
    .style("font-family","Lato,'Open Sans',sans-serif");

  const xa = g.append("g").attr("transform",`translate(0,${H})`)
    .call(d3.axisBottom(x).tickValues(monthTicks.map(toDate))
      .tickFormat((d,j) => monthLabels[j]).tickSizeInner(-4).tickSizeOuter(0).tickPadding(12));
  xa.select(".domain").remove();
  xa.selectAll("line").attr("stroke","#444");
  xa.selectAll("text").attr("font-size",17.5).attr("fill",textCol)
    .style("font-family","Lato,'Open Sans',sans-serif");

  // y label
  g.append("text").attr("transform",`translate(-40,${H/2}) rotate(-90)`)
    .attr("text-anchor","middle").attr("font-size",18.5).attr("fill",textCol)
    .text("Percent Women Among New Registrants");

  // frame
  g.append("rect").attr("x",0).attr("y",0).attr("width",W).attr("height",H)
    .attr("fill","none").attr("stroke","#444").attr("stroke-width",1.2);

  // legend
  const lg = g.append("g").attr("transform","translate(17,17)");
  [["#000", legendLabels[0]],["#ff0000", legendLabels[1]]].forEach((e, k) => {
    lg.append("rect").attr("x",0).attr("y",k*22).attr("width",12).attr("height",11).attr("fill",e[0]);
    lg.append("text").attr("x",29).attr("y",k*22+10.5).attr("font-size",15.8).attr("fill",textCol).text(e[1]);
  });
});
</script></body></html>
